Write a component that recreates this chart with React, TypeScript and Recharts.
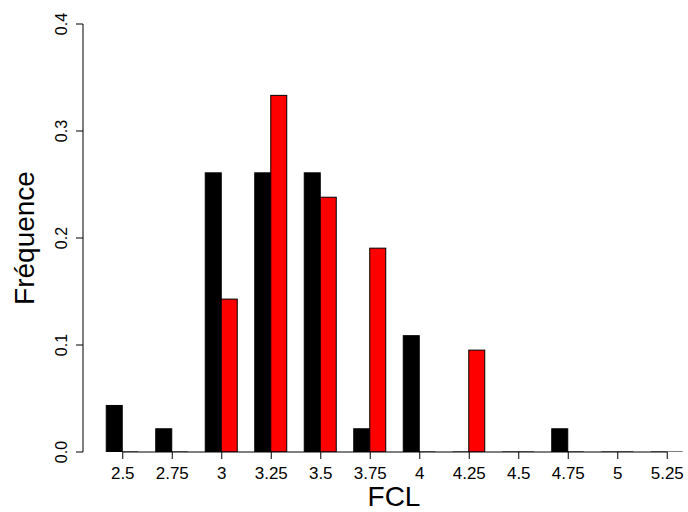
import React from 'react';
import { BarChart, Bar, XAxis, YAxis, ReferenceLine, Label } from 'recharts';

const categories = ['2.5', '2.75', '3', '3.25', '3.5', '3.75', '4', '4.25', '4.5', '4.75', '5', '5.25'];
const blackSeries = [0.0435, 0.0217, 0.2609, 0.2609, 0.2609, 0.0217, 0.1087, 0, 0, 0.0217, 0, 0];
const redSeries = [0, 0, 0.1429, 0.3333, 0.2381, 0.1905, 0, 0.0952, 0, 0, 0, 0];
const yTicks = [0, 0.1, 0.2, 0.3, 0.4];

const data = categories.map((c, i) => ({ cat: c, a: blackSeries[i], b: redSeries[i] }));

const FONT = 'Liberation Sans, Arial, Helvetica, sans-serif';

const makeShape = (fill: string) => (props: any) => {
  const { x, y, width, height } = props;
  if (!height || Math.abs(height) < 0.01) {
    return <line x1={x} x2={x + width} y1={y} y2={y} stroke="#000" strokeWidth={1} />;
  }
  return <rect x={x} y={y} width={width} height={height} fill={fill} stroke="#000" strokeWidth={1} />;
};

const YTick = (props: any) => {
  const { y, payload } = props;
  const bx = 67;
  return (
    <text
      x={bx}
      y={y}
      transform={`rotate(-90, ${bx}, ${y})`}
      textAnchor="middle"
      fontSize={16}
      fontFamily={FONT}
      fill="#000"
    >
      {Number(payload.value).toFixed(1)}
    </text>
  );
};

export default function App() {
  return (
    <div style={{ position: 'absolute', left: 0, top: 0, width: 688, height: 512, overflow: 'hidden', background: '#fff' }}>
      <BarChart
        width={700}
        height={512}
        data={data}
        margin={{ top: 24, right: 8, bottom: 0, left: 0 }}
        barCategoryGap="16.667%"
        barGap={0}
      >
        <XAxis
          dataKey="cat"
          height={60}
          axisLine={false}
          tickLine={{ stroke: '#000' }}
          tickSize={7}
          tickMargin={8}
          padding={{ left: 15, right: 0 }}
          interval={0}
          tick={{ fontSize: 17, fill: '#000', fontFamily: FONT }}
        >
          <Label
            content={() => (
              <text x={394} y={506} textAnchor="middle" fontSize={28} fontFamily={FONT} fill="#000">
                FCL
              </text>
            )}
          />
        </XAxis>
        <YAxis
          width={83}
          domain={[0, 0.4]}
          ticks={yTicks}
          allowDataOverflow
          axisLine={{ stroke: '#000' }}
          tickLine={{ stroke: '#000' }}
          tickSize={7}
          tick={<YTick />}
        >
          <Label
            content={() => (
              <text
                x={34}
                y={238}
                transform="rotate(-90, 34, 238)"
                textAnchor="middle"
                fontSize={28}
                fontFamily={FONT}
                fill="#000"
              >
                Fréquence
              </text>
            )}
          />
        </YAxis>
        <ReferenceLine
          segment={[{ x: '2.5', y: 0 }, { x: '5.25', y: 0 }]}
          stroke="#000"
          strokeWidth={1}
        />
        <Bar dataKey="a" fill="#000" isAnimationActive={false} shape={makeShape('#000')} />
        <Bar dataKey="b" fill="#ff0000" isAnimationActive={false} shape={makeShape('#ff0000')} />
      </BarChart>
    </div>
  );
}
